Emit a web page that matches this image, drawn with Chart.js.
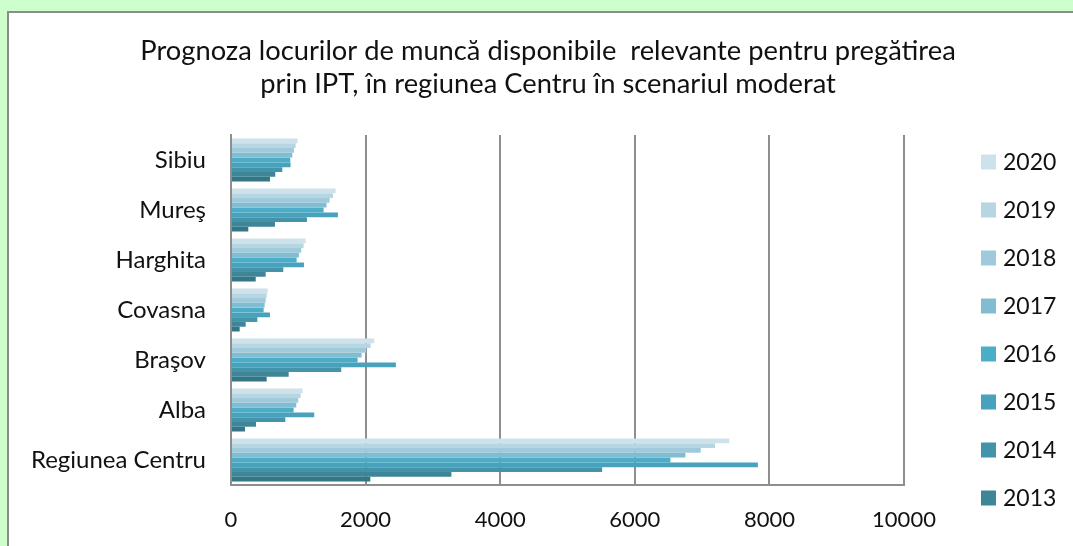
<!DOCTYPE html>
<html>
<head>
<meta charset="utf-8">
<script src="https://cdn.jsdelivr.net/npm/chart.js@4"></script>
<style>
  body { margin: 0; background: #ccffcc; overflow: hidden; }
  .cadru { position: absolute; left: 7px; top: 11px; width: 1100px; height: 560px; background: #fff; border: 2px solid #8c8c8c; }
  #grafic { position: absolute; left: 0; top: 0; }
</style>
</head>
<body>
<div class="cadru"></div>
<canvas id="grafic" width="1073" height="546"></canvas>
<script>
// Judete (de sus in jos, ca in grafic)
const judete = ['Sibiu', 'Mureş', 'Harghita', 'Covasna', 'Braşov', 'Alba', 'Regiunea Centru'];
const xTicks = [0, 2000, 4000, 6000, 8000, 10000];
const titlu = ['Prognoza locurilor de muncă disponibile  relevante pentru pregătirea',
               'prin IPT, în regiunea Centru în scenariul moderat'];

// locuri de munca pe ani
const val2020 = [990, 1554, 1109, 545, 2128, 1064, 7404];
const val2019 = [960, 1515, 1079, 530, 2074, 1034, 7192];
const val2018 = [935, 1465, 1044, 515, 2010, 1000, 6980];
const val2017 = [911, 1420, 1010, 500, 1940, 970, 6752];
const val2016 = [881, 1376, 975, 485, 1881, 930, 6529];
const val2015 = [885, 1589, 1084, 579, 2450, 1237, 7829];
const val2014 = [762, 1128, 777, 391, 1638, 807, 5515];
const val2013 = [658, 653, 515, 218, 857, 371, 3275];
const val2012 = [579, 257, 367, 129, 530, 208, 2070]; // seria fara intrare in legenda

const ani = ['2020', '2019', '2018', '2017', '2016', '2015', '2014', '2013', '2012'];
const valori = [val2020, val2019, val2018, val2017, val2016, val2015, val2014, val2013, val2012];
const culori = ['#cde2ea', '#b7d6e1', '#9fcadb', '#82bcd1', '#4badc7', '#48a2bb', '#4394ab', '#3d8597', '#347586'];

const fontText = 'Lato';

// titlu + legenda desenate de mana (Excel a taiat ultima intrare din legenda)
const titluSiLegenda = {
    id: 'titluSiLegenda',
    afterDraw(chart, args, opts) {
        const ctx = chart.ctx;
        ctx.save();
        ctx.fillStyle = '#111';
        ctx.textBaseline = 'middle';
        ctx.textAlign = 'center';
        ctx.font = opts.titluSize + 'px ' + fontText;
        titlu.forEach((linie, i) => ctx.fillText(linie, opts.titluX, opts.titluY + i * opts.titluPas));

        ctx.font = opts.size + 'px ' + fontText;
        ctx.textAlign = 'left';
        let y = opts.y;
        chart.data.datasets.forEach(ds => {
            if (ds.faraLegenda) return;
            ctx.fillStyle = ds.backgroundColor;
            ctx.fillRect(opts.x, y - opts.box / 2, opts.box, opts.box);
            ctx.fillStyle = '#111';
            ctx.fillText(ds.label, opts.x + opts.box + 7, y + 1);
            y += opts.pas;
        });
        ctx.restore();
    }
};

const seturi = ani.map((an, i) => ({
    label: an,
    data: valori[i],
    backgroundColor: culori[i],
    borderWidth: 0,
    barPercentage: 1,
    categoryPercentage: 0.86,
    faraLegenda: an === '2012'
}));

new Chart(document.getElementById('grafic'), {
    type: 'bar',
    data: { labels: judete, datasets: seturi },
    plugins: [titluSiLegenda],
    options: {
        responsive: false,
        animation: false,
        indexAxis: 'y',
        layout: { padding: { left: 0, right: 169, top: 135, bottom: 0 } },
        scales: {
            x: {
                min: 0,
                max: 10000,
                afterBuildTicks: (scale) => { scale.ticks = xTicks.map(v => ({ value: v })); },
                afterFit: (scale) => { scale.height = 61; },
                grid: { color: '#8e8e8e', lineWidth: 2, drawTicks: false },
                border: { color: '#8e8e8e', width: 2 },
                ticks: {
                    padding: 22, color: '#111', font: { family: fontText, size: 22 },
                    callback: (v) => String(v)
                }
            },
            y: {
                afterFit: (scale) => { scale.width = 231; },
                grid: { display: false, drawTicks: false },
                border: { color: '#8e8e8e', width: 2 },
                ticks: { padding: 25, color: '#111', font: { family: fontText, size: 24 } }
            }
        },
        plugins: {
            legend: { display: false },
            tooltip: { enabled: false },
            title: { display: false },
            titluSiLegenda: {
                titluX: 548, titluY: 51, titluPas: 33, titluSize: 27.3,
                x: 981, y: 162, box: 15, pas: 48, size: 23
            }
        }
    }
});
</script>
</body>
</html>
